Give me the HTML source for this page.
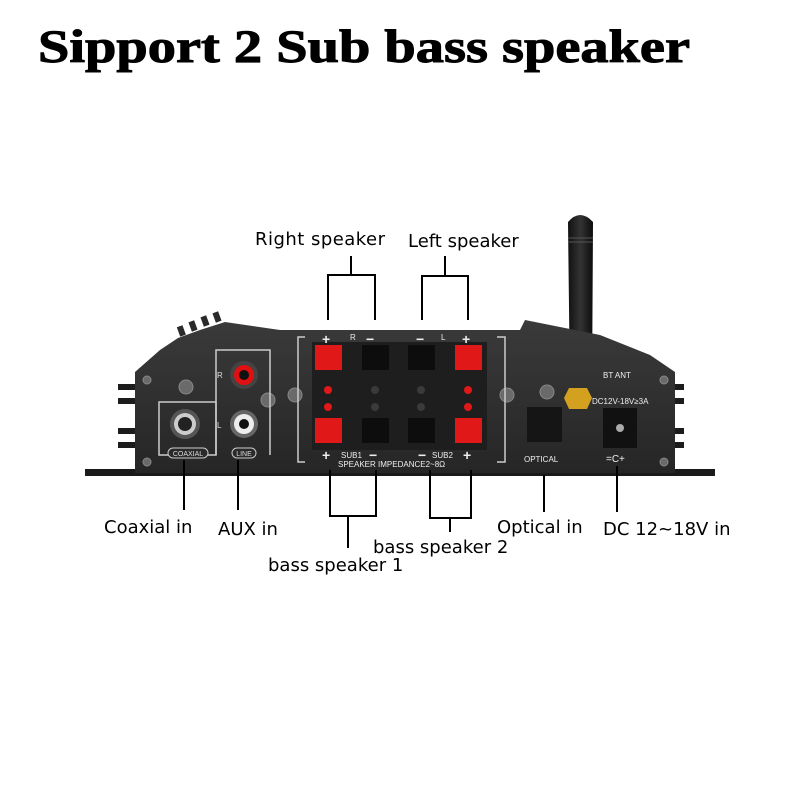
<!DOCTYPE html>
<html><head><style>
html,body{margin:0;padding:0;background:#fff;}
svg{display:block}
</style></head><body>
<svg width="800" height="800" viewBox="0 0 800 800" xmlns="http://www.w3.org/2000/svg">
<defs>
<linearGradient id="metal" x1="0" y1="0" x2="0" y2="1">
<stop offset="0" stop-color="#3a3a3a"/><stop offset="1" stop-color="#262626"/>
</linearGradient>
<linearGradient id="ant" x1="0" y1="0" x2="1" y2="0">
<stop offset="0" stop-color="#111"/><stop offset="0.5" stop-color="#333"/><stop offset="1" stop-color="#0c0c0c"/>
</linearGradient>
</defs>
<rect width="800" height="800" fill="#fff"/>
<text x="38" y="62" font-family="Liberation Serif, serif" font-weight="bold" font-size="47" fill="#000" textLength="652" lengthAdjust="spacingAndGlyphs" stroke="#000" stroke-width="1">Sipport 2 Sub bass speaker</text>

<!-- antenna -->
<path d="M568 222 Q580 208 593 222 L592 392 L570 392 Z" fill="url(#ant)"/>
<line x1="568" y1="238" x2="593" y2="238" stroke="#555" stroke-width="1"/>
<line x1="568" y1="242" x2="593" y2="242" stroke="#555" stroke-width="1"/>

<!-- feet -->
<rect x="85" y="469" width="630" height="7" fill="#1a1a1a"/>
<g fill="#1c1c1c">
<rect x="118" y="384" width="20" height="6"/><rect x="118" y="398" width="20" height="6"/>
<rect x="118" y="428" width="20" height="6"/><rect x="118" y="442" width="20" height="6"/>
<rect x="662" y="384" width="22" height="6"/><rect x="662" y="398" width="22" height="6"/>
<rect x="662" y="428" width="22" height="6"/><rect x="662" y="442" width="22" height="6"/>
</g>
<path d="M135 372 L160 350 L178 338 L200 330 L225 322 L280 330 L520 330 L525 320 L600 335 L650 355 L675 372 L675 473 L135 473 Z" fill="url(#metal)"/>
<g fill="#2a2a2a">
<rect x="178" y="326" width="6" height="10" transform="rotate(-20 181 330)"/>
<rect x="190" y="321" width="6" height="10" transform="rotate(-20 193 326)"/>
<rect x="202" y="316" width="6" height="10" transform="rotate(-20 205 321)"/>
<rect x="214" y="312" width="6" height="10" transform="rotate(-20 217 317)"/>
</g>
<g fill="#6a6a6a" stroke="#888" stroke-width="1">
<circle cx="147" cy="380" r="4"/><circle cx="147" cy="462" r="4"/>
<circle cx="664" cy="380" r="4"/><circle cx="664" cy="462" r="4"/>
<circle cx="186" cy="387" r="7"/><circle cx="268" cy="400" r="7"/>
<circle cx="295" cy="395" r="7"/><circle cx="507" cy="395" r="7"/>
<circle cx="547" cy="392" r="7"/>
</g>
<path d="M216 455 L216 350 L270 350 L270 455" fill="none" stroke="#ccc" stroke-width="1.5"/>
<rect x="159" y="402" width="57" height="53" fill="none" stroke="#ccc" stroke-width="1.5"/>
<text x="217" y="378" font-family="Liberation Sans" font-size="8" fill="#ddd">R</text>
<text x="217" y="428" font-family="Liberation Sans" font-size="8" fill="#ddd">L</text>
<rect x="168" y="448" width="40" height="10" rx="5" fill="#2a2a2a" stroke="#ccc"/>
<text x="188" y="456" font-family="Liberation Sans" font-size="7" fill="#ddd" text-anchor="middle">COAXIAL</text>
<rect x="232" y="448" width="24" height="10" rx="5" fill="#2a2a2a" stroke="#ccc"/>
<text x="244" y="456" font-family="Liberation Sans" font-size="7" fill="#ddd" text-anchor="middle">LINE</text>
<circle cx="244" cy="375" r="14" fill="#444"/><circle cx="244" cy="375" r="10" fill="#e01010"/><circle cx="244" cy="375" r="5" fill="#111"/>
<circle cx="244" cy="424" r="14" fill="#666"/><circle cx="244" cy="424" r="10" fill="#eee"/><circle cx="244" cy="424" r="5" fill="#111"/>
<circle cx="185" cy="424" r="15" fill="#555"/><circle cx="185" cy="424" r="11" fill="#ccc"/><circle cx="185" cy="424" r="7" fill="#222"/>
<path d="M305 337 L298 337 L298 462 L305 462 M497 337 L505 337 L505 462 L497 462" fill="none" stroke="#ccc" stroke-width="1.5"/>
<rect x="312" y="342" width="175" height="108" fill="#1e1e1e"/>
<g fill="#e01818">
<rect x="315" y="345" width="27" height="25"/><rect x="315" y="418" width="27" height="25"/>
<rect x="455" y="345" width="27" height="25"/><rect x="455" y="418" width="27" height="25"/>
<circle cx="328" cy="390" r="4"/><circle cx="328" cy="407" r="4"/>
<circle cx="468" cy="390" r="4"/><circle cx="468" cy="407" r="4"/>
</g>
<g fill="#0d0d0d">
<rect x="362" y="345" width="27" height="25"/><rect x="362" y="418" width="27" height="25"/>
<rect x="408" y="345" width="27" height="25"/><rect x="408" y="418" width="27" height="25"/>
</g>
<g fill="#3a3a3a">
<circle cx="375" cy="390" r="4"/><circle cx="375" cy="407" r="4"/>
<circle cx="421" cy="390" r="4"/><circle cx="421" cy="407" r="4"/>
</g>
<g font-family="Liberation Sans" fill="#eee">
<text x="322" y="344" font-size="14" font-weight="bold">+</text>
<text x="366" y="344" font-size="14" font-weight="bold">−</text>
<text x="416" y="344" font-size="14" font-weight="bold">−</text>
<text x="462" y="344" font-size="14" font-weight="bold">+</text>
<text x="322" y="460" font-size="14" font-weight="bold">+</text>
<text x="369" y="460" font-size="14" font-weight="bold">−</text>
<text x="418" y="460" font-size="14" font-weight="bold">−</text>
<text x="463" y="460" font-size="14" font-weight="bold">+</text>
<text x="341" y="458" font-size="8">SUB1</text>
<text x="432" y="458" font-size="8">SUB2</text>
<text x="338" y="467" font-size="8">SPEAKER IMPEDANCE2~8Ω</text>
<text x="350" y="340" font-size="8">R</text>
<text x="441" y="340" font-size="8">L</text>
<text x="524" y="462" font-size="8">OPTICAL</text>
<text x="603" y="378" font-size="8">BT ANT</text>
<text x="592" y="404" font-size="8">DC12V-18V≥3A</text>
<text x="606" y="462" font-size="10">=C+</text>
</g>
<rect x="527" y="407" width="35" height="35" fill="#151515"/>
<rect x="603" y="408" width="34" height="40" fill="#111"/>
<circle cx="620" cy="428" r="4" fill="#aaa"/>
<polygon points="569,388 587,388 592,398 587,409 569,409 564,398" fill="#d4a020"/>

<g stroke="#000" stroke-width="2" fill="none">
<path d="M328 320 L328 275 L375 275 L375 320 M351 275 L351 256"/>
<path d="M422 320 L422 276 L468 276 L468 320 M445 276 L445 256"/>
<path d="M184 460 L184 510"/>
<path d="M238 460 L238 510"/>
<path d="M330 470 L330 516 L376 516 L376 470 M348 516 L348 548"/>
<path d="M430 470 L430 518 L471 518 L471 470 M450 518 L450 532"/>
<path d="M544 475 L544 512"/>
<path d="M617 466 L617 512"/>
</g>
<g font-family="DejaVu Sans, Liberation Sans, sans-serif" font-size="18" fill="#000">
<text x="255" y="245" textLength="130">Right speaker</text>
<text x="408" y="247">Left speaker</text>
<text x="104" y="533">Coaxial in</text>
<text x="218" y="535">AUX in</text>
<text x="497" y="533">Optical in</text>
<text x="603" y="535">DC 12~18V in</text>
<text x="373" y="553">bass speaker 2</text>
<text x="268" y="571">bass speaker 1</text>
</g>
</svg>
</body></html>
